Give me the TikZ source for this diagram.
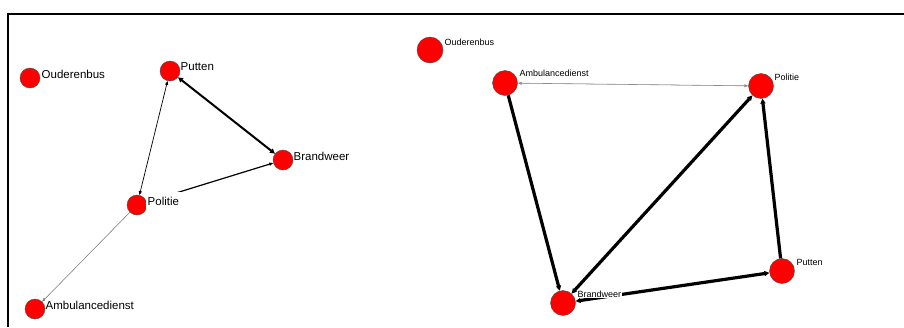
\documentclass[tikz,border=0pt]{standalone}
\usepackage{fontspec}
\setmainfont{Liberation Sans}
\usetikzlibrary{arrows.meta}
\begin{document}
\begin{tikzpicture}[x=1pt,y=-1pt,
  lnode/.style={circle,fill=red,draw=black!70,line width=0.4pt,minimum size=20pt,inner sep=0pt},
  rnode/.style={circle,fill=red,draw=black!70,line width=0.4pt,minimum size=25pt,inner sep=0pt},
  llab/.style={anchor=west,fill=white,inner xsep=0.5pt,inner ysep=2pt,font=\fontsize{11.5}{13}\selectfont},
  rlab/.style={anchor=west,fill=white,inner xsep=0.5pt,inner ysep=1pt,font=\fontsize{9}{10}\selectfont},
  tip/.style={-{Triangle[length=4pt,width=3pt]}},
  tips/.style={{Triangle[length=4pt,width=3pt]}-{Triangle[length=4pt,width=3pt]}},
  btip/.style={-{Triangle[length=5pt,width=5pt]}},
  btips/.style={{Triangle[length=5pt,width=5pt]}-{Triangle[length=5pt,width=5pt]}},
  thickedge/.style={line width=3.2pt}
]
\useasboundingbox (0,0) rectangle (904,327);
\fill[white] (0,0) rectangle (904,327);
\draw[line width=2pt] (8,327) -- (8,14) -- (904,14);

% left graph nodes
\node[lnode] (lOud) at (30,78) {};
\node[lnode] (lPut) at (170,71) {};
\node[lnode] (lBra) at (283,160) {};
\node[lnode] (lPol) at (137,205) {};
\node[lnode] (lAmb) at (35,309) {};

% right graph nodes
\node[rnode,minimum size=26pt] (rOud) at (430,50) {};
\node[rnode] (rAmb) at (505,83) {};
\node[rnode] (rPol) at (761,86) {};
\node[rnode] (rPut) at (782,271) {};
\node[rnode] (rBra) at (563,303) {};

% left edges
\draw[tips,line width=0.7pt] (lPut) -- (lPol);
\draw[btips,line width=2pt] (lPut) -- (lBra);
\draw[tip,line width=1.2pt] (lPol) -- (lBra);
\draw[tip,line width=0.4pt,draw=gray,fill=black] (lPol) -- (lAmb);

% right edges
\draw[tips,line width=0.6pt,draw=black!45,fill=black] (rAmb) -- (rPol);
\draw[btip,thickedge] (rAmb) -- (rBra);
\draw[btips,thickedge] (rBra) -- (rPol);
\draw[btip,thickedge] (rPut) -- (rPol);
\draw[btips,thickedge] (rBra) -- (rPut);

% left labels
\node[llab] (tlOud) at (41,74) {Ouderenbus};
\node[llab] (tlPut) at (180,67) {Putten};
\node[llab] (tlBra) at (293,156) {Brandweer};
\node[llab,inner ysep=4.5pt,inner xsep=1.5pt] (tlPol) at (146,201) {Politie};
\node[llab] (tlAmb) at (45,305) {Ambulancedienst};

% right labels
\node[rlab] (trOud) at (444,42) {Ouderenbus};
\node[rlab] (trAmb) at (519,73) {Ambulancedienst};
\node[rlab] (trPol) at (774,77) {Politie};
\node[rlab] (trPut) at (796,262) {Putten};
\node[rlab] (trBra) at (577,294) {Brandweer};
\end{tikzpicture}
\end{document}
